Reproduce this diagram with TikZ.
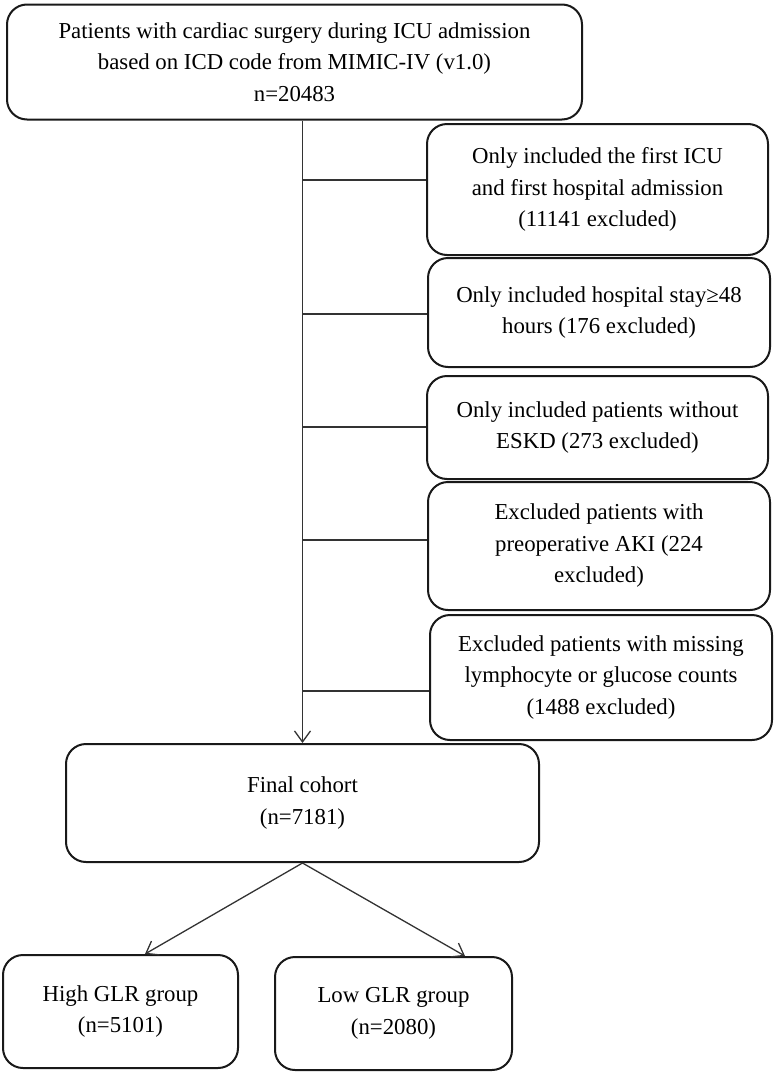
\documentclass[tikz,border=0pt]{standalone}
\usepackage{fontspec}
\setmainfont{Liberation Serif}
\usetikzlibrary{arrows.meta,calc}
\begin{document}
\begin{tikzpicture}[x=1pt,y=-1pt,
  box/.style={draw=black!90,line width=2pt,rounded corners=20pt,align=center,
    inner sep=0pt,font=\fontsize{22.8}{31.5}\selectfont},
  conn/.style={draw=black!80,line width=1.3pt},
  arr/.style={conn,-{Straight Barb[length=11pt,width=16pt,line width=1.3pt]}}]
\useasboundingbox (0,0) rectangle (776,1074);
\node[box,minimum width=575pt,minimum height=115pt] (top) at (294.5,62)
  {Patients with cardiac surgery during ICU admission\\based on ICD code from MIMIC-IV (v1.0)\\n=20483};
\node[box,minimum width=341pt,minimum height=131pt] (e1) at (597.5,189.5)
  {Only included the first ICU\\and first hospital admission\\(11141 excluded)};
\node[box,minimum width=342pt,minimum height=109pt] (e2) at (599,312.5)
  {Only included hospital stay≥48\\hours (176 excluded)};
\node[box,minimum width=341pt,minimum height=103pt] (e3) at (597.5,427.5)
  {Only included patients without\\ESKD (273 excluded)};
\node[box,minimum width=342pt,minimum height=128pt] (e4) at (599,546)
  {Excluded patients with\\preoperative AKI (224\\excluded)};
\node[box,minimum width=342pt,minimum height=125pt] (e5) at (601,677.5)
  {Excluded patients with missing\\lymphocyte or glucose counts\\(1488 excluded)};
\node[box,minimum width=473pt,minimum height=118pt] (final) at (302.5,803)
  {Final cohort\\(n=7181)};
\node[box,minimum width=235pt,minimum height=113pt] (high) at (120.5,1011.5)
  {High GLR group\\(n=5101)};
\node[box,minimum width=237pt,minimum height=113pt] (low) at (393.5,1013.5)
  {Low GLR group\\(n=2080)};
\draw[arr] (top.south -| final.north) -- (final.north);
\foreach \e/\yy in {e1/180,e2/314,e3/427,e4/540,e5/691}{
  \draw[conn] (final.north |- 0,\yy) -- (\e.west |- 0,\yy);
}
\draw[arr] (final.south) -- ([xshift=24.5pt]high.north);
\draw[arr] (final.south) -- ([xshift=71.5pt]low.north);
\end{tikzpicture}
\end{document}
